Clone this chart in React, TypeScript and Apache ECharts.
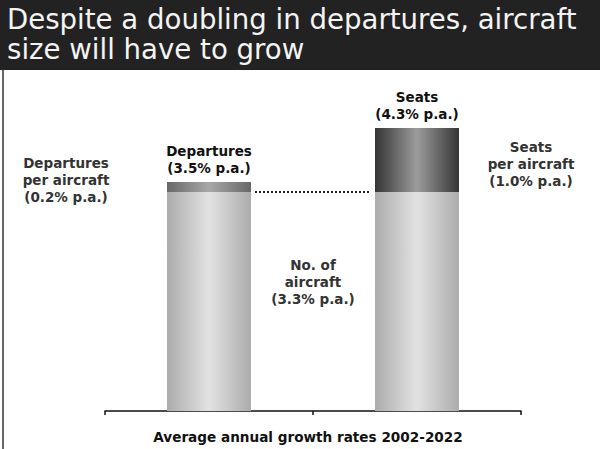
import React, { useEffect, useRef } from "react";
import * as echarts from "echarts";

const categories = ["Departures", "Seats"];
const aircraftValues = [219, 219];
const perAircraftValues = [10, 64];
const topLabels = ["Departures\n(3.5% p.a.)", "Seats\n(4.3% p.a.)"];
const title = "Despite a doubling in departures, aircraft\nsize will have to grow";
const leftNote = "Departures\nper aircraft\n(0.2% p.a.)";
const rightNote = "Seats\nper aircraft\n(1.0% p.a.)";
const middleNote = "No. of\naircraft\n(3.3% p.a.)";
const axisTitle = "Average annual growth rates 2002-2022";

const grad = (edge: string, mid: string) =>
  new echarts.graphic.LinearGradient(0, 0, 1, 0, [
    { offset: 0, color: edge },
    { offset: 0.5, color: mid },
    { offset: 1, color: edge },
  ]);

export default function App() {
  const ref = useRef<HTMLDivElement>(null);
  useEffect(() => {
    if (!ref.current) return;
    const chart = echarts.init(ref.current, null, { renderer: "svg" });
    const noteStyle = {
      fontFamily: "DejaVu Sans",
      fontSize: 13.5,
      fontWeight: "bold",
      lineHeight: 17,
      fill: "#333",
      align: "center",
      verticalAlign: "middle",
    };
    const option: any = {
      animation: false,
      backgroundColor: "#fff",
      grid: { left: 105, right: 79, top: 111, bottom: 38 },
      xAxis: {
        type: "category",
        data: categories,
        axisLine: { lineStyle: { color: "#111", width: 1.5 } },
        axisTick: { show: true, length: 4, lineStyle: { color: "#111", width: 1.5 } },
        axisLabel: { show: false },
        name: axisTitle,
        nameLocation: "middle",
        nameGap: 19,
        nameTextStyle: {
          fontFamily: "DejaVu Sans",
          fontWeight: "bold",
          fontSize: 13.6,
          color: "#111",
          padding: [0, 10, 0, 0],
        },
      },
      yAxis: {
        type: "value",
        min: 0,
        max: 300,
        show: false,
        splitLine: { show: false },
      },
      series: [
        {
          type: "bar",
          stack: "s",
          barWidth: 84,
          data: aircraftValues,
          itemStyle: { color: grad("#acacac", "#e2e2e2") },
        },
        {
          type: "bar",
          stack: "s",
          barWidth: 84,
          data: perAircraftValues.map((v, i) => ({
            value: v,
            itemStyle: { color: i === 0 ? grad("#686868", "#a8a8a8") : grad("#353535", "#9c9c9c") },
            label: {
              show: true,
              position: "top",
              distance: 6,
              formatter: topLabels[i],
              fontFamily: "DejaVu Sans",
              fontWeight: "bold",
              fontSize: 13.5,
              lineHeight: 17,
              color: "#111",
            },
          })),
        },
      ],
      graphic: [
        { type: "rect", left: 0, top: 0, shape: { width: 600, height: 70 }, style: { fill: "#222" }, z: 10 },
        {
          type: "text",
          left: 7,
          top: 4,
          z: 11,
          style: { text: title, fontFamily: "DejaVu Sans", fontSize: 27.6, lineHeight: 30, fill: "#f4f4f4" },
        },
        { type: "line", shape: { x1: 3, y1: 70, x2: 3, y2: 449 }, style: { stroke: "#333", lineWidth: 1.5 } },
        { type: "text", x: 66, y: 180, style: { ...noteStyle, text: leftNote } },
        { type: "text", x: 531, y: 164, style: { ...noteStyle, text: rightNote } },
        { type: "text", x: 313, y: 282, style: { ...noteStyle, text: middleNote } },
      ],
    };
    chart.setOption(option);
    const y = chart.convertToPixel({ yAxisIndex: 0 }, aircraftValues[0]) as number;
    const x0 = chart.convertToPixel({ xAxisIndex: 0 }, 0) as number;
    const x1 = chart.convertToPixel({ xAxisIndex: 0 }, 1) as number;
    chart.setOption({
      graphic: [
        ...option.graphic,
        {
          type: "line",
          shape: { x1: x0 + 46, y1: y, x2: x1 - 46, y2: y },
          style: { stroke: "#222", lineWidth: 2, lineDash: [2, 2] },
        },
      ],
    });
    return () => chart.dispose();
  }, []);
  return <div ref={ref} style={{ position: "fixed", left: 0, top: 0, width: 600, height: 449 }} />;
}
